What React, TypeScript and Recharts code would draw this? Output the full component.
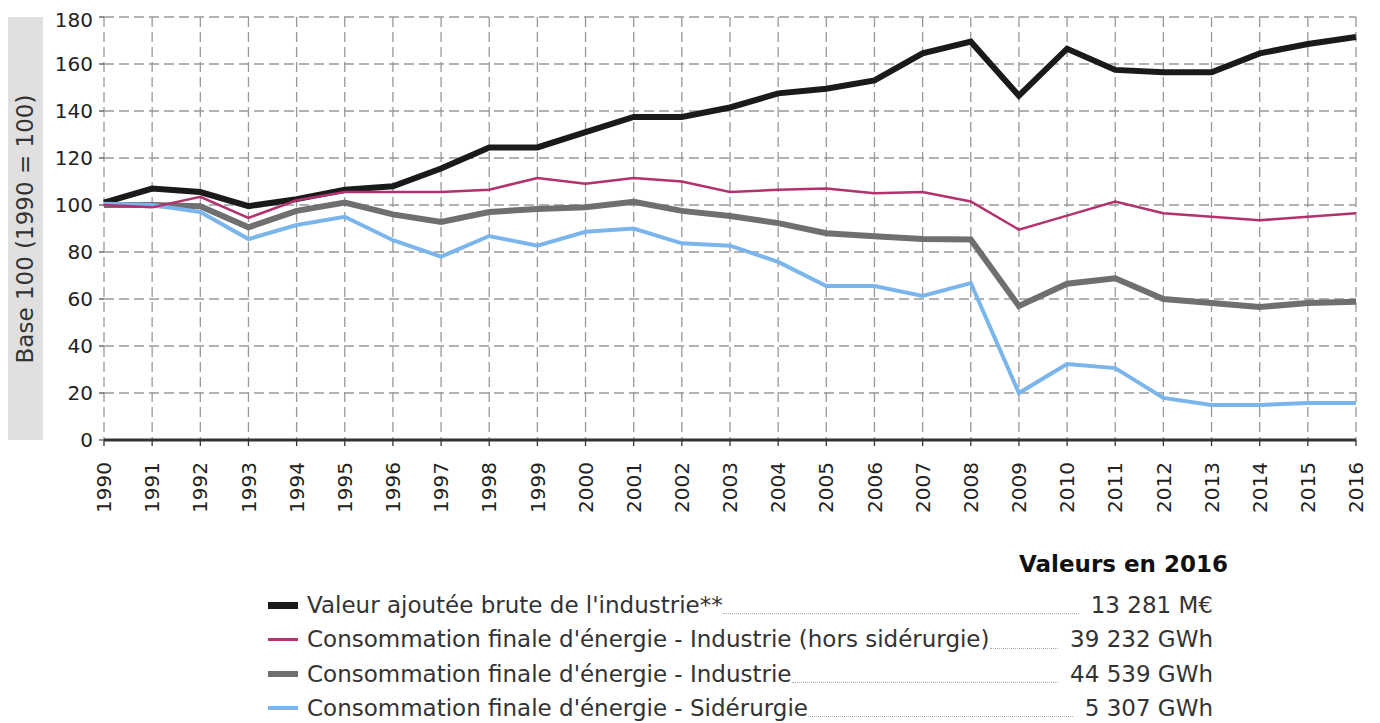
import { LineChart, Line, XAxis, YAxis, CartesianGrid } from "recharts";

const years = [
  1990, 1991, 1992, 1993, 1994, 1995, 1996, 1997, 1998, 1999, 2000, 2001, 2002, 2003,
  2004, 2005, 2006, 2007, 2008, 2009, 2010, 2011, 2012, 2013, 2014, 2015, 2016,
];

// base 100 = 1990
const valeurAjoutee = [
  101, 107, 105.5, 99.5, 102.5, 106.5, 108, 115.5, 124.5, 124.5, 131, 137.5, 137.5, 141.5,
  147.5, 149.5, 153, 164.5, 169.5, 146.5, 166.5, 157.5, 156.5, 156.5, 164.5, 168.5, 171.5,
];
const consoHorsSiderurgie = [
  100, 99, 103.5, 94.5, 102, 105.5, 105.5, 105.5, 106.5, 111.5, 109, 111.5, 110, 105.5,
  106.5, 107, 105, 105.5, 101.5, 89.5, 95.5, 101.5, 96.5, 95, 93.5, 95, 96.5,
];
const consoIndustrie = [
  100, 100, 99.5, 90.5, 97.5, 101, 96, 92.8, 97, 98.3, 99, 101.4, 97.5, 95.3,
  92.3, 88, 86.7, 85.5, 85.3, 57, 66.5, 68.8, 60, 58.3, 56.6, 58.3, 58.8,
];
const consoSiderurgie = [
  100.5, 100, 97, 85.5, 91.5, 95, 85, 78, 86.8, 82.7, 88.6, 90, 83.7, 82.7,
  75.8, 65.5, 65.5, 61.3, 66.8, 20, 32.3, 30.6, 17.9, 14.9, 14.9, 15.7, 15.7,
];

const yTicks = [0, 20, 40, 60, 80, 100, 120, 140, 160, 180];

const legendLabels = [
  "Valeur ajoutée brute de l'industrie**",
  "Consommation finale d'énergie - Industrie (hors sidérurgie)",
  "Consommation finale d'énergie - Industrie",
  "Consommation finale d'énergie - Sidérurgie",
];
const valeurs2016 = ["13 281 M€", "39 232 GWh", "44 539 GWh", "5 307 GWh"];

const data = years.map((year, i) => ({
  year,
  va: valeurAjoutee[i],
  hs: consoHorsSiderurgie[i],
  ind: consoIndustrie[i],
  sid: consoSiderurgie[i],
}));

const SERIES = [
  { key: "va", color: "#1a1a1a", width: 6, swatch: 7 },
  { key: "hs", color: "#b3316e", width: 2.5, swatch: 3 },
  { key: "ind", color: "#6f6f6f", width: 6, swatch: 6 },
  { key: "sid", color: "#7ab5ec", width: 4, swatch: 4 },
];
const DRAW_ORDER = ["va", "ind", "sid", "hs"];

const FONT = "'DejaVu Sans', sans-serif";

const YearTick = (props: any) => {
  const { x, y, payload } = props;
  return (
    <text
      x={x}
      y={y}
      dy="0.36em"
      transform={`rotate(-90, ${x}, ${y})`}
      textAnchor="end"
      fill="#222"
      fontSize={20}
      fontFamily={FONT}
    >
      {payload.value}
    </text>
  );
};

const App = () => {
  return (
    <div style={{ position: "relative", width: 1364, height: 715, fontFamily: FONT }}>
      <div
        style={{
          position: "absolute",
          left: 0,
          top: 9,
          width: 35,
          height: 423,
          background: "#e0e0e0",
          display: "flex",
          alignItems: "center",
          justifyContent: "center",
        }}
      >
        <div
          style={{
            transform: "rotate(-90deg)",
            whiteSpace: "nowrap",
            fontSize: 23,
            color: "#333",
          }}
        >
          Base 100 (1990 = 100)
        </div>
      </div>

      <div style={{ position: "absolute", left: 0, top: 0 }}>
        <LineChart
          width={1364}
          height={530}
          data={data}
          margin={{ top: 9, right: 16, bottom: 10, left: 36 }}
        >
          <CartesianGrid stroke="#999" strokeDasharray="10 5" strokeWidth={1.3} />
          <XAxis
            dataKey="year"
            type="number"
            domain={[1990, 2016]}
            ticks={years}
            interval={0}
            height={88}
            tickSize={6}
            tickMargin={16}
            axisLine={{ stroke: "#333", strokeWidth: 3 }}
            tickLine={{ stroke: "#333", strokeWidth: 1.3 }}
            tick={<YearTick />}
          />
          <YAxis
            type="number"
            domain={[0, 180]}
            ticks={yTicks}
            width={60}
            tickSize={5}
            tickMargin={6}
            axisLine={false}
            tickLine={{ stroke: "#555", strokeWidth: 1.3 }}
            tick={{ fill: "#222", fontSize: 20, fontFamily: FONT }}
          />
          {DRAW_ORDER.map((k) => {
            const s = SERIES.find((e) => e.key === k)!;
            return (
              <Line
                key={k}
                dataKey={k}
                stroke={s.color}
                strokeWidth={s.width}
                dot={false}
                activeDot={false}
                strokeLinejoin="miter"
                isAnimationActive={false}
              />
            );
          })}
        </LineChart>
      </div>

      <div
        style={{
          position: "absolute",
          left: 260,
          top: 542,
          width: 945,
          fontSize: 23,
          color: "#333",
        }}
      >
        <div
          style={{
            textAlign: "right",
            fontWeight: "bold",
            color: "#111",
            marginRight: -15,
            height: 28,
            lineHeight: "28px",
            marginBottom: 10,
          }}
        >
          Valeurs en 2016
        </div>
        {legendLabels.map((label, i) => (
          <div
            key={label}
            style={{ display: "flex", alignItems: "center", height: 34.3, lineHeight: "28px" }}
          >
            <div
              style={{
                width: 30,
                height: SERIES[i].swatch,
                background: SERIES[i].color,
                marginRight: 9,
                flex: "none",
              }}
            />
            <span style={{ whiteSpace: "nowrap" }}>{label}</span>
            <div
              style={{
                flex: 1,
                alignSelf: "flex-end",
                borderBottom: "1.5px dotted #aaa",
                margin: "0 12px 8px 0",
              }}
            />
            <span style={{ whiteSpace: "nowrap" }}>{valeurs2016[i]}</span>
          </div>
        ))}
      </div>
    </div>
  );
};

export default App;
